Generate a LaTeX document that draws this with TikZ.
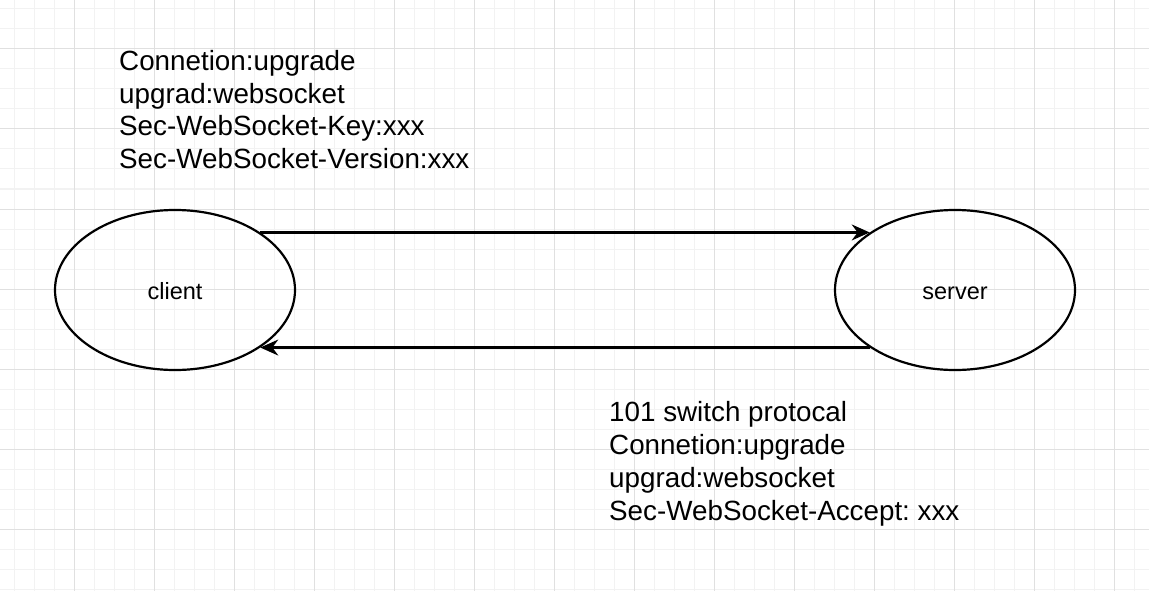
\documentclass[tikz,border=0pt]{standalone}
\usepackage{fontspec}
\setmainfont{Liberation Sans}
\usepackage{xcolor}
\usetikzlibrary{shapes.geometric}
\usetikzlibrary{arrows.meta}
\frenchspacing

\definecolor{gridminor}{HTML}{F2F2F2}
\definecolor{gridmajor}{HTML}{E0E0E0}

\tikzset{
    peer/.style = {draw, ellipse, line width = 2.2pt, minimum width = 240pt,
        minimum height = 160pt, inner sep = 0pt, text height = 18pt, text depth = 0pt,
        font = \fontsize{23.5}{27}\selectfont},
    msg/.style = {line width = 2.2pt, -{Stealth[length = 18pt, width = 16pt, inset = 6pt]}},
    header/.style = {anchor = base west, align = left, inner sep = 0pt,
        font = \fontsize{27.8}{33}\selectfont}
}

\begin{document}
\begin{tikzpicture}[x = 1pt, y = -1pt]
    \useasboundingbox (0, 0) rectangle (1149, 591);
    \fill[white] (0, 0) rectangle (1149, 591);

    % grid
    \foreach \gx in {14, 34, ..., 1149}
        \draw[gridminor, line width = 1pt] (\gx, 0) -- (\gx, 591);
    \foreach \gy in {9, 29, ..., 591}
        \draw[gridminor, line width = 1pt] (0, \gy) -- (1149, \gy);
    \foreach \gx in {74, 154, ..., 1149}
        \draw[gridmajor, line width = 1pt] (\gx, 0) -- (\gx, 591);
    \foreach \gy in {49, 129, ..., 591}
        \draw[gridmajor, line width = 1pt] (0, \gy) -- (1149, \gy);

    \node[peer] (client) at (175, 290) {client};
    \node[peer] (server) at (955, 290) {server};

    \draw[msg] (client.34) -- (server.146);
    \draw[msg] (server.214) -- (client.326);

    \node[header] (request) at (119, 169) {Connetion:upgrade\\upgrad:websocket\\Sec-WebSocket-Key:xxx\\Sec-WebSocket-Version:xxx};
    \node[header] (response) at (609, 520) {101 switch protocal\\Connetion:upgrade\\upgrad:websocket\\Sec-WebSocket-Accept: xxx};
\end{tikzpicture}
\end{document}
